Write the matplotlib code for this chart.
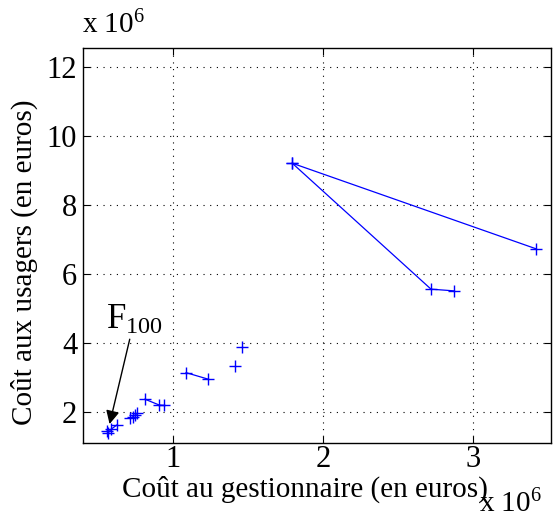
import numpy as np
import matplotlib
matplotlib.use("Agg")
import matplotlib.pyplot as plt

plt.rcParams['font.family'] = ['Liberation Serif', 'DejaVu Serif']
plt.rcParams['mathtext.fontset'] = 'custom'
plt.rcParams['mathtext.rm'] = 'Liberation Serif'
plt.rcParams['mathtext.it'] = 'Liberation Serif'

# costs in millions of euros (gestionnaire, usagers), one list per front
front_a_x = [1.793, 3.418]
front_a_y = [9.22, 6.74]
front_b_x = [1.793, 2.718, 2.873]
front_b_y = [9.22, 5.57, 5.52]
front_c_x = [1.085, 1.233]
front_c_y = [3.15, 2.96]
front_d_x = [0.811, 0.907, 0.938]
front_d_y = [2.38, 2.21, 2.20]
front_e_x = [0.556, 0.567, 0.585, 0.623]
front_e_y = [1.45, 1.41, 1.51, 1.63]
front_f_x = [0.711, 0.730, 0.744, 0.760]
front_f_y = [1.83, 1.87, 1.92, 1.97]
single_x = [1.411, 1.456]
single_y = [3.34, 3.90]

fig = plt.figure(figsize=(5.53, 5.18), dpi=100)
ax = fig.add_axes([0.1496, 0.1454, 0.8468, 0.7626])

fronts = [(front_a_x, front_a_y), (front_b_x, front_b_y), (front_c_x, front_c_y),
          (front_d_x, front_d_y), (front_e_x, front_e_y), (front_f_x, front_f_y)]
for fx, fy in fronts:
    ax.plot(fx, fy, '-+', color='#0000ff', lw=0.9, ms=9, mew=1.0)
ax.plot(single_x, single_y, '+', color='#0000ff', ms=9, mew=1.0)

ax.set_xlim(0.396, 3.518)
ax.set_ylim(1.12, 12.57)
ax.set_xticks([1, 2, 3])
ax.set_yticks([2, 4, 6, 8, 10, 12])
ax.grid(True, linestyle=(0, (1, 5)), color='black', lw=0.8)
ax.tick_params(direction='in', top=True, right=True, labelsize=22, length=5)
ax.tick_params(axis='x', pad=2)
ax.tick_params(axis='y', pad=4)
for s in ax.spines.values():
    s.set_linewidth(1.0)

ax.set_xlabel('Coût au gestionnaire (en euros)', fontsize=21)
ax.xaxis.set_label_coords(0.475, -0.083)
ax.set_ylabel('Coût aux usagers (en euros)', fontsize=21)
ax.yaxis.set_label_coords(-0.095, 0.457)

fig.text(0.148, 0.925, 'x 10$^{6}$', fontsize=21, ha='left', va='bottom')
fig.text(0.867, 0.0, 'x 10$^{6}$', fontsize=21, ha='left', va='bottom')

ax.annotate('F$_{100}$', xy=(0.575, 1.66), xytext=(0.74, 4.2),
            fontsize=25, ha='center', va='bottom',
            arrowprops=dict(arrowstyle='-|>', color='black', lw=1.0,
                            mutation_scale=20, shrinkA=0, shrinkB=0))

fig.savefig('out.png', dpi=100)
